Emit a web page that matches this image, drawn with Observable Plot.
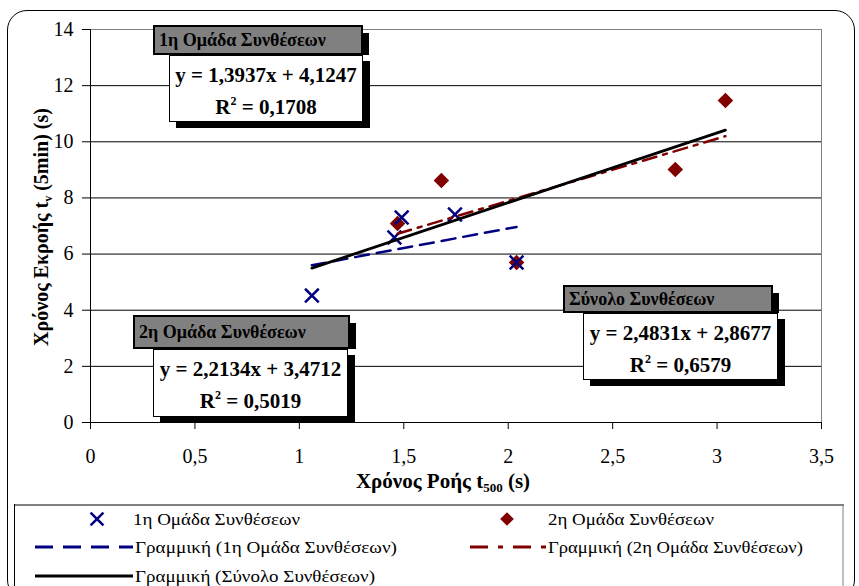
<!DOCTYPE html>
<html>
<head>
<meta charset="utf-8">
<script src="https://cdn.jsdelivr.net/npm/d3@7"></script>
<script src="https://cdn.jsdelivr.net/npm/@observablehq/plot@0.6"></script>
<style>
  html, body { margin: 0; padding: 0; background: #fff; }
  body { width: 859px; height: 586px; position: relative; overflow: hidden;
         font-family: "Liberation Serif", "Times New Roman", serif; color: #000; }
  #frame { position: absolute; left: 7px; top: 10px; width: 848px; height: 590px;
           border: 1.5px solid #000; border-radius: 20px; box-sizing: border-box; }
  #chart { position: absolute; left: 0; top: 0; }
  #legend { position: absolute; left: 14px; top: 504px; font-family: "Liberation Serif", serif; }
  .head { position: absolute; box-sizing: border-box; background: #808080;
          border: 2px solid #000; box-shadow: 6px 8px 0 #000; clip-path: inset(0 -10px 0 0);
          font-weight: bold; font-size: 18px; padding-left: 4px; white-space: nowrap; z-index: 3; }
  .eq { position: absolute; box-sizing: border-box; background: #fff; border: 1px solid #000;
        box-shadow: 7px 6px 0 #000; font-weight: bold; font-size: 21px; text-align: center;
        line-height: 32px; padding-top: 3px; white-space: nowrap; z-index: 2; }
  .eq sup { font-size: 12px; vertical-align: 9px; line-height: 0; }
</style>
</head>
<body>
<div id="frame"></div>
<div id="chart"></div>
<svg id="legend" width="830" height="84"></svg>
<script>
// Flow time t500 (s) and outflow time tv (s) for the two groups of mixes
const group1T500 = [1.06, 1.455, 1.49, 1.745, 2.04];
const group1Tv   = [4.52, 6.59, 7.30, 7.41, 5.70];
const group2T500 = [1.47, 1.68, 2.04, 2.80, 3.04];
const group2Tv   = [7.09, 8.62, 5.70, 9.01, 11.47];

// Linear trend lines: group 1, group 2, all mixes
const trendNames     = ["1η Ομάδα Συνθέσεων", "2η Ομάδα Συνθέσεων", "Σύνολο Συνθέσεων"];
const trendSlope     = [1.3937, 2.2134, 2.4831];
const trendIntercept = [4.1247, 3.4712, 2.8677];
const trendR2        = [0.1708, 0.5019, 0.6579];

const xTicks = [0, 0.5, 1, 1.5, 2, 2.5, 3, 3.5];
const yTicks = [0, 2, 4, 6, 8, 10, 12, 14];

const comma = v => String(v).replace(".", ",");
const fmt4 = v => v.toFixed(4).replace(".", ",");

const group1 = group1T500.map((x, i) => ({x, y: group1Tv[i]}));
const group2 = group2T500.map((x, i) => ({x, y: group2Tv[i]}));
const allX = group1T500.concat(group2T500);
const ranges = [
  d3.extent(group1T500),
  d3.extent(group2T500),
  d3.extent(allX)
];
const trend = k => ranges[k].map(x => ({x, y: trendSlope[k] * x + trendIntercept[k]}));

const navy = "#000080", maroon = "#800000";

const chart = Plot.plot({
  width: 859,
  height: 500,
  marginLeft: 90,
  marginRight: 38,
  marginTop: 29,
  marginBottom: 78,
  style: {fontFamily: "'Liberation Serif', 'Times New Roman', serif", fontSize: "20px", color: "#000", background: "transparent"},
  x: {domain: [0, 3.5]},
  y: {domain: [0, 14]},
  marks: [
    Plot.frame({stroke: "#808080"}),
    Plot.ruleY(yTicks.filter(d => d > 0 && d < 14), {stroke: "#000", strokeWidth: 1}),
    Plot.ruleX([0], {stroke: "#000"}),
    Plot.ruleY([0], {stroke: "#000"}),
    Plot.axisX({ticks: xTicks, tickFormat: comma, tickSize: 7, tickPadding: 19, label: null, fontSize: 20}),
    Plot.axisY({ticks: yTicks, tickSize: 8, tickPadding: 9, label: null, fontSize: 20}),
    Plot.dot(group2, {x: "x", y: "y", symbol: "diamond2", r: 7, fill: maroon, stroke: "none"}),
    Plot.dot(group1, {x: "x", y: "y", symbol: "times", r: 6.3, stroke: navy, strokeWidth: 2.5}),
    Plot.line(trend(0), {x: "x", y: "y", stroke: navy, strokeWidth: 2.5, strokeDasharray: "14,8"}),
    Plot.line(trend(1), {x: "x", y: "y", stroke: maroon, strokeWidth: 2.5, strokeDasharray: "14,7,4,7"}),
    Plot.line(trend(2), {x: "x", y: "y", stroke: "#000", strokeWidth: 2.8})
  ]
});
document.getElementById("chart").appendChild(chart);

// Axis titles with subscripts
const svg = d3.select(chart);
const xt = svg.append("text").attr("x", 443).attr("y", 488).attr("text-anchor", "middle")
  .attr("font-weight", "bold").attr("font-size", 21);
xt.append("tspan").text("Χρόνος Ροής t");
xt.append("tspan").attr("font-size", 13).attr("dy", 4).text("500");
xt.append("tspan").attr("dy", -4).text(" (s)");

const yt = svg.append("text").attr("transform", "translate(48,227) rotate(-90)").attr("text-anchor", "middle")
  .attr("font-weight", "bold").attr("font-size", 20);
yt.append("tspan").text("Χρόνος Εκροής t");
yt.append("tspan").attr("font-size", 12).attr("dy", 4).text("v");
yt.append("tspan").attr("dy", -4).text(" (5min) (s)");

// Trend line labels
const tagLayout = [
  {head: [153, 25, 210, 30], eq: [169, 55, 194, 67]},
  {head: [133, 315, 217, 34], eq: [153, 349, 195, 68]},
  {head: [563, 285, 210, 28], eq: [583, 313, 195, 67]}
];
tagLayout.forEach((t, k) => {
  const h = document.createElement("div");
  h.className = "head";
  Object.assign(h.style, {left: t.head[0] + "px", top: t.head[1] + "px", width: t.head[2] + "px",
    height: t.head[3] + "px", lineHeight: (t.head[3] - 4) + "px"});
  h.textContent = trendNames[k];
  document.body.appendChild(h);
  const e = document.createElement("div");
  e.className = "eq";
  Object.assign(e.style, {left: t.eq[0] + "px", top: t.eq[1] + "px", width: t.eq[2] + "px", height: t.eq[3] + "px"});
  e.innerHTML = `y = ${fmt4(trendSlope[k])}x + ${fmt4(trendIntercept[k])}<br>R<sup>2</sup> = ${fmt4(trendR2[k])}`;
  document.body.appendChild(e);
});

// Legend
const lg = d3.select("#legend");
lg.append("line").attr("x1", 0).attr("x2", 830).attr("y1", 1).attr("y2", 1).attr("stroke", "#808080").attr("stroke-width", 2);
lg.append("line").attr("x1", 0.5).attr("x2", 0.5).attr("y1", 0).attr("y2", 84).attr("stroke", "#000").attr("stroke-width", 1);
lg.append("line").attr("x1", 829).attr("x2", 829).attr("y1", 0).attr("y2", 84).attr("stroke", "#808080").attr("stroke-width", 1);

const legendText = (x, y, s, len) => lg.append("text").attr("x", x).attr("y", y + 6)
  .attr("font-size", 17).attr("textLength", len).attr("lengthAdjust", "spacingAndGlyphs").text(s);

// row 1: markers
lg.append("path").attr("transform", "translate(83,15)").attr("d", d3.symbol(d3.symbolTimes, 110)())
  .attr("stroke", navy).attr("stroke-width", 2.5).attr("fill", "none");
legendText(119, 15, trendNames[0], 167);
lg.append("path").attr("transform", "translate(493,15)").attr("d", d3.symbol(d3.symbolDiamond2, 120)())
  .attr("fill", maroon);
legendText(534, 15, trendNames[1], 166);

// row 2: group trend lines
lg.append("line").attr("x1", 21).attr("x2", 119).attr("y1", 43).attr("y2", 43)
  .attr("stroke", navy).attr("stroke-width", 3).attr("stroke-dasharray", "18,10");
legendText(121, 43, `Γραμμική (${trendNames[0]})`, 262);
lg.append("line").attr("x1", 456).attr("x2", 532).attr("y1", 43).attr("y2", 43)
  .attr("stroke", maroon).attr("stroke-width", 3).attr("stroke-dasharray", "18,10,5,10");
legendText(534, 43, `Γραμμική (${trendNames[1]})`, 255);

// row 3: overall trend line
lg.append("line").attr("x1", 21).attr("x2", 119).attr("y1", 72).attr("y2", 72)
  .attr("stroke", "#000").attr("stroke-width", 3);
legendText(121, 72, `Γραμμική (${trendNames[2]})`, 240);
</script>
</body>
</html>
